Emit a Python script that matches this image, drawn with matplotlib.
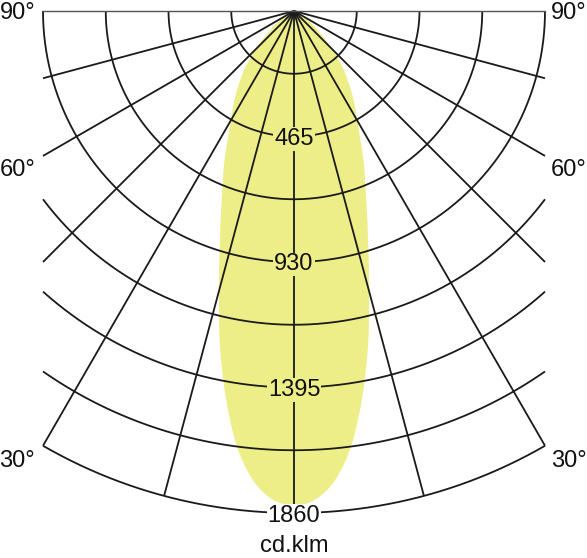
import numpy as np
import matplotlib
matplotlib.use('Agg')
import matplotlib.pyplot as plt
from matplotlib.path import Path
from matplotlib.patches import PathPatch

# ---- data ----
angles_deg = [0, 2.5, 5, 7.5, 10, 12.5, 15, 17.5, 20, 22.5, 25, 27.5, 30, 32.5,
              35, 37.5, 40, 42.5, 45, 47.5, 50, 52.5, 55, 57.5, 60, 62.5, 65, 67.5, 70]
intensity_cd = [1832, 1812, 1745, 1625, 1455, 1268, 1075, 915, 790, 690, 610, 530, 470, 420,
                375, 330, 290, 245, 200, 160, 125, 98, 75, 52, 35, 22, 12, 5, 0]
ring_values = [465, 930, 1395, 1860]
ring_step = 232.5
ring_count = 8
ray_angles_deg = [-75, -60, -45, -30, -15, 0, 15, 30, 45, 60, 75]
angle_labels = ['90°', '60°', '30°']
unit_label = 'cd.klm'

plt.rcParams['font.family'] = ['Liberation Sans', 'DejaVu Sans']

W, H, DPI = 587, 558, 100
fig = plt.figure(figsize=(W / DPI, H / DPI), dpi=DPI)
ax = fig.add_axes([0, 0, 1, 1])

rmax = 1860.0
half_w = 930.0
s = rmax / 502.0          # cd per pixel
ox, oy = 294, 11          # origin in pixels
ax.set_xlim(-ox * s, (W - ox) * s)
ax.set_ylim(-(H - oy) * s, oy * s)
ax.axis('off')

def px(x, y):
    return (x - ox) * s, -(y - oy) * s

yellow = '#EEEE88'
line_c = '#1a1a1a'
lw = 1.3
fs = 17

# light distribution (smooth closed curve through the read points)
th = np.radians(angles_deg)
I = np.array(intensity_cd, dtype=float)
th_full = np.concatenate([-th[::-1], th[1:]])
I_full = np.concatenate([I[::-1], I[1:]])
P = np.column_stack([I_full * np.sin(th_full), -I_full * np.cos(th_full)])
n = len(P)
verts = [P[0]]
codes = [Path.MOVETO]
for i in range(n - 1):
    p0 = P[max(i - 1, 0)]
    p1 = P[i]
    p2 = P[i + 1]
    p3 = P[min(i + 2, n - 1)]
    c1 = p1 + (p2 - p0) / 6.0
    c2 = p2 - (p3 - p1) / 6.0
    verts += [c1, c2, p2]
    codes += [Path.CURVE4] * 3
verts.append(P[0])
codes.append(Path.CLOSEPOLY)
ax.add_patch(PathPatch(Path(verts, codes), fc=yellow, ec='none', lw=0, zorder=1))

# arcs
for k in range(1, ring_count + 1):
    r = k * ring_step
    tmax = np.pi / 2 if r <= half_w else np.arcsin(half_w / r)
    t = np.linspace(-tmax, tmax, 600)
    ax.plot(r * np.sin(t), -r * np.cos(t), color=line_c, lw=lw, zorder=2,
            solid_capstyle='butt')

# rays
for a in ray_angles_deg:
    ar = np.radians(a)
    L = rmax if a == 0 else min(rmax, half_w / abs(np.sin(ar)))
    ax.plot([0, L * np.sin(ar)], [0, -L * np.cos(ar)], color=line_c, lw=lw, zorder=2,
            solid_capstyle='butt')
# 90 deg line (top border)
ax.plot([-half_w, half_w], [0, 0], color='#555555', lw=1.0, zorder=2)

# ring labels (shifted a few pixels so the digits centre on the arc)
dy_lab = 2.5 * s
for v in ring_values:
    fc = 'white' if v == ring_values[-1] else yellow
    ax.text(0, -v - dy_lab, str(v), ha='center', va='center', fontsize=fs, color='#111111',
            bbox=dict(boxstyle='square,pad=0.04', fc=fc, ec='none'), zorder=4)

# angle labels
label_rows = [13, 170, 461]
for lab, py in zip(angle_labels, label_rows):
    x1, y1 = px(35, py)
    ax.text(x1, y1, lab, ha='right', va='center', fontsize=fs, color='#111111', zorder=4)
    x2, y2 = px(551, py)
    ax.text(x2, y2, lab, ha='left', va='center', fontsize=fs, color='#111111', zorder=4)

xu, yu = px(294, 546)
ax.text(xu, yu, unit_label, ha='center', va='center', fontsize=fs, color='#111111')

fig.savefig('out.png', dpi=DPI)
